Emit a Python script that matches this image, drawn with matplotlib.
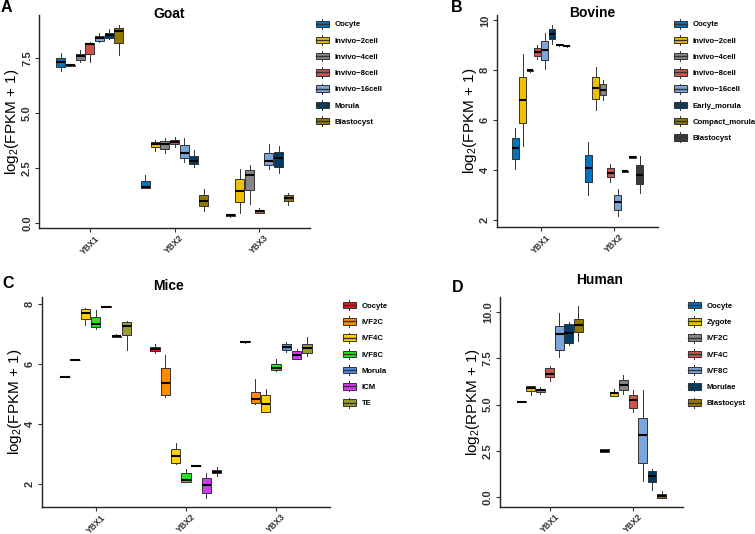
import numpy as np
import matplotlib.pyplot as plt
from matplotlib.legend_handler import HandlerBase
from matplotlib.patches import Rectangle
from matplotlib.lines import Line2D

plt.rcParams['font.family'] = ['Liberation Sans', 'DejaVu Sans']
plt.rcParams['font.weight'] = 'bold'
plt.rcParams['mathtext.fontset'] = 'custom'
plt.rcParams['mathtext.rm'] = 'Liberation Sans:bold'

# each row: [whisker low, q1, median, q3, whisker high] for one stage
goat_genes = ['YBX1', 'YBX2', 'YBX3']
goat_stages = ['Oocyte', 'Invivo\u22122cell', 'Invivo\u22124cell', 'Invivo\u22128cell',
               'Invivo\u221216cell', 'Morula', 'Blastocyst']
goat_ybx1 = [[6.90, 7.08, 7.30, 7.50, 7.71],
             [7.10, 7.12, 7.15, 7.19, 7.21],
             [7.29, 7.41, 7.56, 7.68, 7.83],
             [7.29, 7.68, 8.12, 8.17, 8.23],
             [8.23, 8.26, 8.41, 8.47, 8.63],
             [8.35, 8.38, 8.53, 8.63, 8.80],
             [7.64, 8.17, 8.71, 8.85, 8.97]]
goat_ybx2 = [[1.59, 1.59, 1.62, 1.89, 2.16],
             [3.27, 3.45, 3.57, 3.66, 3.75],
             [3.16, 3.36, 3.57, 3.72, 3.84],
             [3.45, 3.57, 3.69, 3.78, 3.90],
             [2.74, 2.93, 3.16, 3.51, 3.86],
             [2.54, 2.66, 2.81, 3.04, 3.30],
             [0.54, 0.76, 0.97, 1.26, 1.53]]
goat_ybx3 = [[0.27, 0.29, 0.35, 0.38, 0.39],
             [0.42, 0.94, 1.45, 1.97, 2.46],
             [0.85, 1.48, 2.18, 2.39, 2.63],
             [0.42, 0.44, 0.53, 0.57, 0.68],
             [2.46, 2.62, 2.81, 3.18, 3.60],
             [2.24, 2.54, 2.92, 3.21, 3.48],
             [0.82, 0.97, 1.12, 1.26, 1.33]]

bovine_genes = ['YBX1', 'YBX2']
bovine_stages = ['Oocyte', 'Invivo\u22122cell', 'Invivo\u22124cell', 'Invivo\u22128cell',
                 'Invivo\u221216cell', 'Early_morula', 'Compact_morula', 'Blastocyst']
bovine_ybx1 = [[4.03, 4.43, 4.88, 5.29, 5.67],
               [4.96, 5.87, 6.83, 7.73, 8.67],
               [7.95, 7.96, 8.00, 8.03, 8.04],
               [8.44, 8.57, 8.73, 8.89, 9.03],
               [8.04, 8.41, 8.80, 9.16, 9.51],
               [9.07, 9.25, 9.47, 9.64, 9.83],
               [8.99, 9.00, 9.03, 9.06, 9.07],
               [8.95, 8.96, 8.97, 8.98, 8.99]]
bovine_ybx2 = [[3.00, 3.51, 4.07, 4.61, 5.13],
               [6.43, 6.84, 7.29, 7.72, 8.13],
               [6.81, 7.01, 7.23, 7.44, 7.63],
               [3.53, 3.71, 3.89, 4.07, 4.24],
               [2.17, 2.40, 2.71, 3.00, 3.24],
               [3.94, 3.94, 3.95, 3.96, 3.96],
               [4.49, 4.50, 4.53, 4.55, 4.57],
               [3.07, 3.43, 3.81, 4.19, 4.56]]

mice_genes = ['YBX1', 'YBX2', 'YBX3']
mice_stages = ['Oocyte', 'IVF2C', 'IVF4C', 'IVF8C', 'Morula', 'ICM', 'TE']
mice_ybx1 = [[5.56, 5.56, 5.57, 5.58, 5.58],
             [6.13, 6.13, 6.14, 6.15, 6.15],
             [7.32, 7.52, 7.72, 7.84, 7.88],
             [7.17, 7.23, 7.33, 7.58, 7.82],
             [7.91, 7.91, 7.92, 7.93, 7.93],
             [6.91, 6.92, 6.93, 6.95, 7.00],
             [6.48, 6.98, 7.29, 7.41, 7.43]]
mice_ybx2 = [[6.37, 6.43, 6.51, 6.59, 6.66],
             [4.91, 4.99, 5.37, 5.87, 6.31],
             [2.67, 2.70, 2.93, 3.18, 3.36],
             [2.07, 2.09, 2.13, 2.36, 2.52],
             [2.60, 2.60, 2.61, 2.62, 2.62],
             [1.53, 1.71, 1.99, 2.22, 2.36],
             [2.27, 2.36, 2.41, 2.47, 2.58]]
mice_ybx3 = [[6.72, 6.73, 6.74, 6.76, 6.77],
             [4.67, 4.71, 4.84, 5.06, 5.51],
             [4.41, 4.41, 4.67, 4.97, 5.17],
             [5.79, 5.82, 5.89, 6.02, 6.16],
             [6.42, 6.49, 6.58, 6.66, 6.73],
             [6.16, 6.16, 6.30, 6.44, 6.52],
             [6.28, 6.39, 6.53, 6.69, 6.91]]

human_genes = ['YBX1', 'YBX2']
human_stages = ['Oocyte', 'Zygote', 'IVF2C', 'IVF4C', 'IVF8C', 'Morulae', 'Blastocyst']
human_ybx1 = [[5.14, 5.15, 5.16, 5.17, 5.18],
              [5.52, 5.75, 5.88, 6.00, 6.02],
              [5.59, 5.66, 5.77, 5.86, 5.93],
              [6.29, 6.49, 6.65, 6.99, 7.11],
              [7.56, 7.96, 8.82, 9.27, 9.95],
              [8.23, 8.33, 8.85, 9.35, 9.46],
              [8.42, 8.94, 9.32, 9.62, 10.36]]
human_ybx2 = [[2.44, 2.45, 2.51, 2.57, 2.58],
              [5.47, 5.47, 5.61, 5.70, 5.82],
              [5.56, 5.79, 6.06, 6.31, 6.58],
              [4.61, 4.80, 5.25, 5.50, 5.79],
              [0.84, 1.86, 3.35, 4.28, 5.77],
              [0.39, 0.81, 1.11, 1.42, 1.52],
              [-0.04, -0.04, 0.05, 0.14, 0.30]]

jco = ['#0073C2', '#EFC000', '#868686', '#CD534C', '#7AA6DC', '#003C67', '#8F7700', '#3B3B3B']
mice_colors = ['#E8141A', '#FF8C00', '#FFD000', '#1EE61E', '#4F8FE6', '#D23CF0', '#9A9A32']

W, H = 755, 534
fig = plt.figure(figsize=(W / 100, H / 100), dpi=100)


class BoxKey(HandlerBase):
    def create_artists(self, legend, orig_handle, xd, yd, width, height, fontsize, trans):
        x0, y0 = -xd, -yd
        cx = x0 + width / 2
        whisk = Line2D([cx, cx], [y0 - 0.1 * height, y0 + 1.1 * height],
                       color='#333333', lw=0.7, transform=trans)
        box = Rectangle((x0, y0 + 0.12 * height), width, 0.76 * height,
                        facecolor=orig_handle.get_facecolor(), edgecolor='#333333',
                        lw=0.7, transform=trans)
        med = Line2D([x0, x0 + width], [y0 + height / 2] * 2, color='#333333',
                     lw=1.0, transform=trans)
        return [whisk, box, med]


def add_ax(l, r, t, b):
    return fig.add_axes([l / W, 1 - b / H, (r - l) / W, (b - t) / H])


def panel(ax, genes, data, stages, colors, ylim, yticks, yfmt, ylabel, leg_xy):
    n = len(stages)
    step = 0.8 / n
    for gi, rows in enumerate(data):
        for si, r in enumerate(rows):
            st = dict(whislo=r[0], q1=r[1], med=r[2], q3=r[3], whishi=r[4], fliers=[])
            pos = gi + 1 + (si - (n - 1) / 2) * step
            ax.bxp([st], positions=[pos], widths=step * 0.92, patch_artist=True,
                   showcaps=False, manage_ticks=False,
                   boxprops=dict(facecolor=colors[si], edgecolor='#333333', lw=0.7),
                   medianprops=dict(color='black', lw=1.5),
                   whiskerprops=dict(color='#333333', lw=0.7))
    ax.set_xlim(0.4, len(genes) + 0.6)
    ax.set_ylim(*ylim)
    ax.set_xticks(range(1, len(genes) + 1))
    ax.set_xticklabels(genes, rotation=45, fontsize=6.2, color='#333333')
    ax.set_yticks(yticks)
    ax.set_yticklabels([yfmt.format(v) for v in yticks], rotation=90, va='center',
                       fontsize=8, color='#333333')
    ax.tick_params(length=3, width=0.8, color='#333333', pad=2)
    ax.tick_params(axis='x', pad=1)
    for s in ['top', 'right']:
        ax.spines[s].set_visible(False)
    for s in ['left', 'bottom']:
        ax.spines[s].set_linewidth(1.0)
        ax.spines[s].set_color('#222222')
    ax.set_ylabel(ylabel, fontsize=11)
    ax.yaxis.set_label_coords(-18 / (ax.get_position().width * W), 0.5)
    handles = [Rectangle((0, 0), 1, 1, facecolor=c) for c in colors[:n]]
    ax.legend(handles, stages, handler_map={Rectangle: BoxKey()}, frameon=False,
              loc='upper left', bbox_to_anchor=(leg_xy[0] / W, 1 - leg_xy[1] / H),
              bbox_transform=fig.transFigure, borderpad=0, borderaxespad=0,
              fontsize=5.6, handlelength=1.65, handleheight=1.3, labelspacing=0.95,
              handletextpad=0.75)


ylab_f = r'log$_{\mathregular{2}}$(FPKM + 1)'
ylab_r = r'log$_{\mathregular{2}}$(RPKM + 1)'

axA = add_ax(39, 310, 15, 228)
panel(axA, goat_genes, [goat_ybx1, goat_ybx2, goat_ybx3], goat_stages, jco,
      (-0.24, 9.44), [0.0, 2.5, 5.0, 7.5], '{:.1f}', ylab_f, (316, 19.5))

axB = add_ax(497, 658, 15, 227)
panel(axB, bovine_genes, [bovine_ybx1, bovine_ybx2], bovine_stages, jco,
      (1.72, 10.22), [2, 4, 6, 8, 10], '{:d}', ylab_f, (674, 19.5))

axC = add_ax(41.7, 330, 296.7, 507)
panel(axC, mice_genes, [mice_ybx1, mice_ybx2, mice_ybx3], mice_stages, mice_colors,
      (1.24, 8.25), [2, 4, 6, 8], '{:d}', ylab_f, (343, 301))

axD = add_ax(499.7, 683, 296.7, 506.5)
panel(axD, human_genes, [human_ybx1, human_ybx2], human_stages, jco,
      (-0.52, 10.84), [0.0, 2.5, 5.0, 7.5, 10.0], '{:.1f}', ylab_r, (688, 301))

for txt, x, y in [('Goat', 169, 14), ('Bovine', 592, 13), ('Mice', 169, 286), ('Human', 600, 280)]:
    fig.text(x / W, 1 - y / H, txt, ha='center', va='center', fontsize=10)
for txt, x, y in [('A', 1, 7), ('B', 451, 7), ('C', 2, 283), ('D', 452, 287)]:
    fig.text(x / W, 1 - y / H, txt, ha='left', va='center', fontsize=11.5)

fig.savefig('out.png', dpi=100, facecolor='white')
